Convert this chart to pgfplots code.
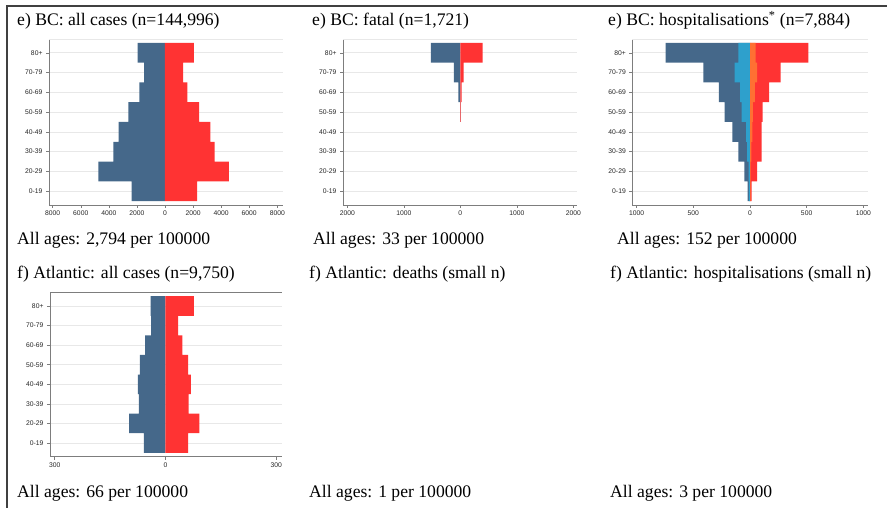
\documentclass[border=0pt]{standalone}
\usepackage{pgfplots}
\pgfplotsset{compat=1.18}
\usepackage{fontspec}
\setmainfont{Liberation Serif}
\newfontfamily\tickfont{Liberation Sans}
\definecolor{sblue}{RGB}{69,104,138}
\definecolor{sred}{RGB}{255,51,51}
\definecolor{slblue}{RGB}{46,160,204}
\definecolor{sorange}{RGB}{255,112,51}
\definecolor{axgray}{RGB}{125,125,125}
\definecolor{gridgray}{RGB}{232,232,232}
\pgfplotsset{
  every non boxed x axis/.style={},
  every non boxed y axis/.style={},
  pyr/.style={
    scale only axis,
    anchor=south west,
    ymin=0.3, ymax=8.7,
    ytick={1,...,8},
    yticklabels={0-19,20-29,30-39,40-49,50-59,60-69,70-79,80+},
    axis x line*=bottom, axis y line*=left,
    axis line style={-, axgray, line width=0.7bp},
    tick align=outside,
    major tick length=3bp,
    tick style={axgray, line width=0.5bp},
    ymajorgrids=true,
    major grid style={gridgray, line width=0.7bp},
    ticklabel style={font=\tickfont\fontsize{6.8}{8}\selectfont, text=black!85},
    xticklabel style={yshift=0.5bp},
    clip=false,
  },
  pb/.style={xbar, bar width=1, bar shift=0pt, fill=#1, draw=none},
}
\tikzset{ttl/.style={anchor=base west, inner sep=0pt, font=\fontsize{17.7}{21}\selectfont}}
\begin{document}
\begin{tikzpicture}[x=1bp,y=1bp]
\useasboundingbox (0bp,0bp) rectangle (887bp,508bp);
% frame
\draw[line width=1.2bp, black!75] (887bp,502bp) -- (7bp,502bp) -- (7bp,0bp);

% ---- e) BC all cases
\begin{axis}[pyr, at={(49bp,303bp)}, width=234bp, height=166bp,
  xmin=-8263, xmax=8406,
  xtick={-8000,-6000,-4000,-2000,0,2000,4000,6000,8000},
  xticklabels={8000,6000,4000,2000,0,2000,4000,6000,8000}]
\draw[gridgray, line width=0.7bp] (rel axis cs:0,1) -- (rel axis cs:1,1);
\addplot[pb=sblue] coordinates {(-2380,1) (-4740,2) (-3670,3) (-3310,4) (-2600,5) (-1830,6) (-1480,7) (-1950,8)};
\addplot[pb=sred] coordinates {(2290,1) (4550,2) (3530,3) (3240,4) (2430,5) (1600,6) (1290,7) (2050,8)};
\end{axis}

% ---- e) BC fatal
\begin{axis}[pyr, at={(343bp,303bp)}, width=234bp, height=166bp,
  xmin=-2076, xmax=2065,
  xtick={-2000,-1000,0,1000,2000},
  xticklabels={2000,1000,0,1000,2000}]
\draw[gridgray, line width=0.7bp] (rel axis cs:0,1) -- (rel axis cs:1,1);
\addplot[pb=sblue] coordinates {(-5,5) (-35,6) (-112,7) (-520,8)};
\addplot[pb=sred] coordinates {(12,5) (24,6) (59,7) (395,8)};
\end{axis}

% ---- e) BC hospitalisations
\begin{axis}[pyr, at={(632.3bp,303bp)}, width=235.4bp, height=166bp,
  xmin=-1039, xmax=1039,
  xtick={-1000,-500,0,500,1000},
  xticklabels={1000,500,0,500,1000}]
\draw[gridgray, line width=0.7bp] (rel axis cs:0,1) -- (rel axis cs:1,1);
\addplot[pb=sblue] coordinates {(-21,1) (-50,2) (-103,3) (-156,4) (-224,5) (-274,6) (-412,7) (-745,8)};
\addplot[pb=slblue] coordinates {(-9,1) (-12,2) (-26,3) (-35,4) (-74,5) (-88,6) (-135,7) (-103,8)};
\addplot[pb=sred] coordinates {(15,1) (62,2) (103,3) (103,4) (112,5) (168,6) (271,7) (515,8)};
\addplot[pb=sorange] coordinates {(6,1) (6,2) (12,3) (21,4) (26,5) (44,6) (62,7) (50,8)};
\end{axis}

% ---- f) Atlantic all cases
\begin{axis}[pyr, at={(50bp,51.3bp)}, width=231.7bp, height=164.4bp,
  xmin=-312.7, xmax=314.6,
  xtick={-300,0,300},
  xticklabels={300,0,300}]
\draw[axgray, line width=0.7bp] (rel axis cs:0,1) -- (rel axis cs:1,1);
\addplot[pb=sblue] coordinates {(-58.7,1) (-98.4,2) (-72.2,3) (-75,4) (-69.5,5) (-55,6) (-38.8,7) (-40.6,8)};
\addplot[pb=sred] coordinates {(61.4,1) (92,2) (62.3,3) (68.6,4) (61.4,5) (46,6) (34.3,7) (76.7,8)};
\end{axis}

% texts
\node[ttl] at (17bp,482bp) {e) BC: all cases (n=144,996)};
\node[ttl] at (312bp,482bp) {e) BC: fatal (n=1,721)};
\node[ttl] at (608bp,482bp) {e) BC: hospitalisations\textsuperscript{*} (n=7,884)};
\node[ttl] at (17bp,263bp) {All ages: 2,794 per 100000};
\node[ttl] at (313bp,263bp) {All ages: 33 per 100000};
\node[ttl] at (617bp,263bp) {All ages: 152 per 100000};
\node[ttl] at (17bp,229bp) {f) Atlantic: all cases (n=9,750)};
\node[ttl] at (309bp,229bp) {f) Atlantic: deaths (small n)};
\node[ttl] at (610bp,229bp) {f) Atlantic: hospitalisations (small n)};
\node[ttl] at (17bp,11bp) {All ages: 66 per 100000};
\node[ttl] at (309bp,11bp) {All ages: 1 per 100000};
\node[ttl] at (610bp,11bp) {All ages: 3 per 100000};
\end{tikzpicture}
\end{document}
